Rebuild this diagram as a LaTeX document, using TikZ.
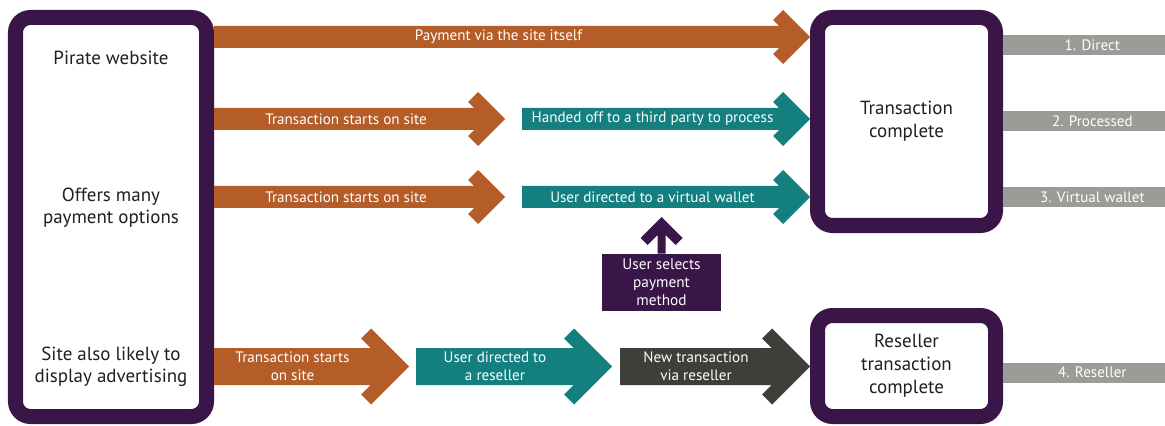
\documentclass[tikz,border=0pt]{standalone}
\usepackage{fontspec}
\setmainfont{PT Sans}
\usetikzlibrary{calc}

\definecolor{piratepurple}{HTML}{3A1548}
\definecolor{rustorange}{HTML}{B45D28}
\definecolor{walletteal}{HTML}{137F7F}
\definecolor{resellgrey}{HTML}{3C3F3A}
\definecolor{tabgrey}{HTML}{9D9B97}
\definecolor{inkblack}{HTML}{231F20}

% half shaft, half head and arm cap of a flow arrow
\newcommand{\fshaft}{0.22cm}
\newcommand{\fhead}{0.54cm}
\newcommand{\fcap}{0.2cm}

\begin{document}
\begin{tikzpicture}[
    stagebox/.style={rectangle, draw=piratepurple, line width=0.3cm, fill=white, rounded corners=0.3cm, align=center, text=inkblack, font=\fontsize{10.8}{13}\selectfont},
    sitetext/.style={align=center, text=inkblack, font=\fontsize{10.8}{12.6}\selectfont},
    choicebox/.style={rectangle, fill=piratepurple, text=white, minimum width=2.38cm, minimum height=1.14cm, inner sep=0pt, align=center, font=\fontsize{8.7}{10.3}\selectfont},
    outcome/.style={rectangle, fill=tabgrey, anchor=west, minimum width=3.56cm, minimum height=0.4cm, inner sep=0pt, text=white, font=\fontsize{8.6}{10}\selectfont},
    flowtext/.style={midway, text=white, align=center, font=\fontsize{8.6}{10.2}\selectfont},
    flow size/.code args={#1/#2/#3}{\def\fshaft{#1}\def\fhead{#2}\def\fcap{#3}},
    slim flow/.style={flow size=0.22cm/0.54cm/0.2cm},
    wide flow/.style={flow size=0.37cm/0.76cm/0.2cm},
    flow/.style={fill=#1, to path={
        let \p1=(\tikztostart), \p2=(\tikztotarget) in
        (\x1,\y1) -- (\x2-\fhead,\y1) \tikztonodes -- (\x1,\y1)
        -- (\x1,\y1+\fshaft) -- (\x2-2*\fcap-\fshaft,\y1+\fshaft)
        -- (\x2-\fhead-\fcap,\y1+\fhead-\fcap) -- (\x2-\fhead,\y1+\fhead)
        -- (\x2,\y1) -- (\x2-\fhead,\y1-\fhead)
        -- (\x2-\fhead-\fcap,\y1-\fhead+\fcap) -- (\x2-2*\fcap-\fshaft,\y1-\fshaft)
        -- (\x1,\y1-\fshaft) -- cycle}},
    flowup/.style={fill=#1, to path={
        let \p1=(\tikztostart), \p2=(\tikztotarget) in
        (\x1-\fshaft,\y1) -- (\x1-\fshaft,\y2-2*\fcap-\fshaft)
        -- (\x1-\fhead+\fcap,\y2-\fhead-\fcap) -- (\x1-\fhead,\y2-\fhead)
        -- (\x1,\y2) -- (\x1+\fhead,\y2-\fhead)
        -- (\x1+\fhead-\fcap,\y2-\fhead-\fcap) -- (\x1+\fshaft,\y2-2*\fcap-\fshaft)
        -- (\x1+\fshaft,\y1) -- cycle}}
]
\useasboundingbox (0, 0) rectangle (23.3, -8.52);

\node[stagebox, minimum width=3.82cm, minimum height=7.98cm] (site) at (2.22, -4.34) {};
\node[sitetext] (sitename) at (2.22, -1.16) {Pirate website};
\node[sitetext] (siteoptions) at (2.22, -4.16) {Offers many\\payment options};
\node[sitetext] (sitead) at (2.22, -7.34) {Site also likely to\\display advertising};
\node[stagebox, minimum width=3.56cm, minimum height=4.16cm] (done) at (18.13, -2.43) {Transaction\\complete};
\node[stagebox, minimum width=3.56cm, minimum height=2.02cm] (resold) at (18.13, -7.32) {Reseller\\transaction\\complete};
\node[choicebox] (pick) at (13.23, -5.65) {User selects\\payment\\method};

\coordinate (row1) at (0, -0.74);
\coordinate (row2) at (0, -2.38);
\coordinate (row3) at (0, -3.94);
\coordinate (row4) at (0, -7.33);
\coordinate (starts2) at (10.10, -2.38);
\coordinate (handed) at (10.44, -2.38);
\coordinate (starts3) at (10.10, -3.94);
\coordinate (wallet) at (10.44, -3.94);
\coordinate (walletfoot) at (13.23, -4.34);
\coordinate (starts4) at (8.18, -7.33);
\coordinate (toreseller) at (8.32, -7.33);
\coordinate (reached) at (12.24, -7.33);
\coordinate (newtrans) at (12.40, -7.33);

\fill[flow=rustorange, slim flow] (site.east |- row1) to node[flowtext] {Payment via the site itself} (done.west |- row1);
\fill[flow=rustorange, slim flow] (site.east |- row2) to node[flowtext] {Transaction starts on site} (starts2);
\fill[flow=walletteal, slim flow] (handed) to node[flowtext] {Handed off to a third party to process} (done.west |- row2);
\fill[flow=rustorange, slim flow] (site.east |- row3) to node[flowtext] {Transaction starts on site} (starts3);
\fill[flow=walletteal, slim flow] (wallet) to node[flowtext] {User directed to a virtual wallet} (done.west |- row3);
\fill[flowup=piratepurple, flow size=0.08cm/0.42cm/0.14cm] (pick.north) to (walletfoot);
\fill[flow=rustorange, wide flow] (site.east |- row4) to node[flowtext] {Transaction starts\\on site} (starts4);
\fill[flow=walletteal, wide flow] (toreseller) to node[flowtext] {User directed to\\a reseller} (reached);
\fill[flow=resellgrey, wide flow] (newtrans) to node[flowtext] {New transaction\\via reseller} (resold.west |- row4);

\node[outcome] (direct) at (done.east |- 0, -0.90) {1. Direct};
\node[outcome] (processed) at (done.east |- 0, -2.42) {2. Processed};
\node[outcome] (virtual) at (done.east |- 0, -3.94) {3. Virtual wallet};
\node[outcome] (resellertab) at (resold.east |- 0, -7.45) {4. Reseller};
\end{tikzpicture}
\end{document}
